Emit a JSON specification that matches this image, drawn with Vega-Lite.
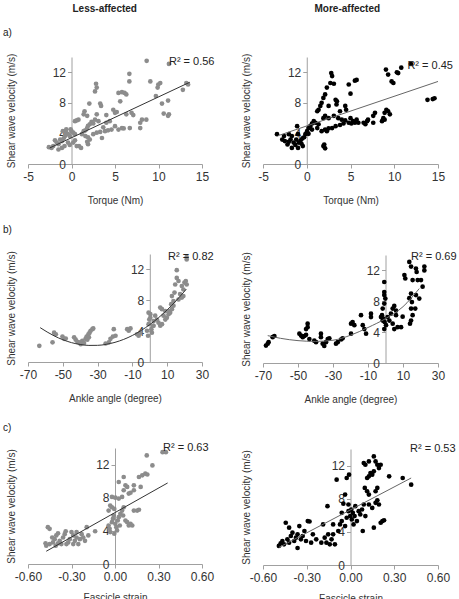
{
  "$schema": "https://vega.github.io/schema/vega-lite/v6.json",
  "padding": {"left": 3, "top": 4, "right": 0, "bottom": 0},
  "background": "white",
  "config": {
    "font": "Liberation Sans",
    "view": {"stroke": null},
    "axis": {"grid": false, "domainColor": "#a0a0a0", "tickColor": "#a0a0a0", "labelFont": "Liberation Sans", "labelFontSize": 12, "labelColor": "#333333", "titleFont": "Liberation Sans", "titleFontSize": 10, "titleFontWeight": "normal", "titleColor": "#333333", "tickSize": 4},
    "axisX": {"labelFlush": false, "labelPadding": 3, "titlePadding": 13},
    "axisY": {"labelPadding": 2},
    "title": {"font": "Liberation Sans", "fontSize": 10, "fontWeight": "normal", "color": "#222222"}
  },
  "datasets": {
    "la_pts": [
      {"x":8.64,"y":13.5},{"x":11.2,"y":13.1},{"x":6.65,"y":11.8},{"x":6.65,"y":10.8},{"x":2.82,"y":10.5},{"x":2.9,"y":10.0},{"x":2.7,"y":9.5},{"x":9.06,"y":10.8},{"x":9.98,"y":10.4},{"x":10.2,"y":10.6},{"x":9.9,"y":10.0},{"x":13.2,"y":10.6},{"x":13.4,"y":10.4},{"x":12.8,"y":9.7},{"x":5.4,"y":9.3},{"x":5.8,"y":9.4},{"x":6.1,"y":9.3},{"x":6.3,"y":9.1},{"x":5.6,"y":8.2},{"x":2.05,"y":7.9},{"x":3.3,"y":7.9},{"x":3.4,"y":7.6},{"x":9.7,"y":8.9},{"x":10.4,"y":7.9},{"x":11.1,"y":8.3},{"x":11.2,"y":6.5},{"x":11.1,"y":6.3},{"x":10.6,"y":6.6},{"x":1.5,"y":6.9},{"x":1.4,"y":6.5},{"x":1.8,"y":6.3},{"x":0.8,"y":5.8},{"x":0.4,"y":5.6},{"x":0.6,"y":5.7},{"x":4.0,"y":6.4},{"x":5.0,"y":6.7},{"x":5.2,"y":6.8},{"x":6.9,"y":6.7},{"x":7.1,"y":6.4},{"x":6.3,"y":6.5},{"x":8.1,"y":5.8},{"x":8.6,"y":5.8},{"x":7.9,"y":5.4},{"x":6.7,"y":4.7},{"x":5.8,"y":4.7},{"x":6.0,"y":4.65},{"x":5.4,"y":4.5},{"x":4.6,"y":4.5},{"x":4.2,"y":4.4},{"x":3.85,"y":4.3},{"x":3.65,"y":4.8},{"x":4.0,"y":5.4},{"x":3.1,"y":5.6},{"x":2.7,"y":5.8},{"x":2.3,"y":5.5},{"x":2.5,"y":5.3},{"x":2.1,"y":5.2},{"x":1.9,"y":5.0},{"x":1.8,"y":4.7},{"x":1.6,"y":4.4},{"x":1.4,"y":4.3},{"x":1.2,"y":3.9},{"x":1.6,"y":3.65},{"x":1.9,"y":3.5},{"x":2.1,"y":3.2},{"x":1.8,"y":2.9},{"x":1.9,"y":2.6},{"x":2.5,"y":3.9},{"x":2.9,"y":4.1},{"x":3.3,"y":4.2},{"x":3.5,"y":3.4},{"x":0.86,"y":2.35},{"x":1.1,"y":2.1},{"x":0.4,"y":3.9},{"x":0.2,"y":4.1},{"x":0.0,"y":4.3},{"x":-0.2,"y":3.65},{"x":-0.4,"y":3.9},{"x":-0.6,"y":4.1},{"x":-0.75,"y":3.65},{"x":-0.9,"y":3.35},{"x":-1.1,"y":3.0},{"x":-1.3,"y":3.2},{"x":-1.5,"y":2.6},{"x":-1.7,"y":2.8},{"x":-1.9,"y":3.1},{"x":-2.1,"y":2.35},{"x":-2.3,"y":2.1},{"x":-2.6,"y":2.2},{"x":-1.5,"y":1.9},{"x":-1.1,"y":2.1},{"x":-0.8,"y":2.35},{"x":-0.4,"y":2.8},{"x":-0.2,"y":2.5},{"x":0.2,"y":2.8},{"x":0.4,"y":3.1},{"x":0.6,"y":2.35},{"x":-0.6,"y":4.55},{"x":-0.1,"y":4.55},{"x":-1.0,"y":4.3},{"x":4.4,"y":5.6},{"x":7.9,"y":4.7},{"x":5.0,"y":4.95},{"x":4.8,"y":7.1},{"x":2.9,"y":6.5}
    ],
    "la_fit": [{"x":-2.5,"y":2.1},{"x":13.6,"y":10.7}],
    "la_r2": [{"x":11.2,"y":13.35,"label":"R² = 0.56"}],
    "ra_pts": [
      {"x":11.9,"y":13.1},{"x":10.8,"y":12.6},{"x":10.3,"y":12.0},{"x":10.45,"y":11.9},{"x":9.05,"y":12.35},{"x":9.3,"y":11.7},{"x":9.7,"y":10.8},{"x":9.9,"y":10.6},{"x":13.8,"y":8.4},{"x":14.4,"y":8.5},{"x":14.6,"y":8.6},{"x":2.8,"y":11.9},{"x":2.9,"y":11.5},{"x":2.7,"y":10.6},{"x":3.1,"y":10.5},{"x":4.8,"y":10.4},{"x":5.5,"y":10.9},{"x":5.7,"y":11.0},{"x":5.0,"y":9.2},{"x":2.3,"y":10.0},{"x":2.1,"y":9.1},{"x":1.9,"y":8.65},{"x":1.7,"y":8.0},{"x":1.55,"y":7.6},{"x":1.35,"y":7.1},{"x":1.2,"y":6.9},{"x":3.3,"y":8.4},{"x":3.45,"y":8.2},{"x":3.4,"y":7.8},{"x":2.5,"y":7.6},{"x":4.4,"y":7.6},{"x":4.5,"y":7.1},{"x":3.8,"y":6.9},{"x":2.1,"y":6.3},{"x":2.5,"y":6.0},{"x":1.9,"y":6.0},{"x":3.1,"y":6.3},{"x":3.6,"y":6.0},{"x":4.0,"y":5.8},{"x":4.4,"y":5.7},{"x":5.0,"y":6.0},{"x":5.3,"y":5.6},{"x":5.7,"y":5.8},{"x":4.8,"y":5.4},{"x":5.1,"y":5.3},{"x":4.2,"y":5.3},{"x":3.8,"y":5.1},{"x":3.3,"y":4.95},{"x":2.9,"y":4.7},{"x":2.5,"y":4.65},{"x":2.1,"y":4.5},{"x":1.7,"y":4.3},{"x":2.3,"y":4.3},{"x":1.35,"y":5.2},{"x":1.0,"y":5.4},{"x":0.8,"y":5.6},{"x":0.6,"y":5.3},{"x":0.4,"y":4.95},{"x":0.2,"y":4.7},{"x":0.6,"y":4.5},{"x":1.2,"y":4.7},{"x":0.04,"y":4.3},{"x":0.2,"y":3.95},{"x":-0.15,"y":3.9},{"x":-0.3,"y":3.5},{"x":-0.5,"y":3.35},{"x":-0.7,"y":3.1},{"x":-0.6,"y":2.65},{"x":-0.45,"y":2.35},{"x":-1.0,"y":2.1},{"x":-1.3,"y":2.5},{"x":-1.5,"y":2.8},{"x":-1.2,"y":3.2},{"x":-1.0,"y":3.9},{"x":-1.1,"y":4.95},{"x":-1.7,"y":3.65},{"x":-1.85,"y":3.2},{"x":-2.05,"y":2.9},{"x":-2.2,"y":2.55},{"x":-2.5,"y":3.0},{"x":-2.8,"y":3.2},{"x":-2.6,"y":3.65},{"x":-2.05,"y":3.9},{"x":-3.4,"y":3.9},{"x":-1.7,"y":2.1},{"x":-0.9,"y":2.8},{"x":1.9,"y":2.35},{"x":2.1,"y":2.05},{"x":2.0,"y":2.55},{"x":6.5,"y":5.4},{"x":6.9,"y":5.6},{"x":7.0,"y":5.8},{"x":6.7,"y":5.2},{"x":7.6,"y":6.3},{"x":7.8,"y":6.7},{"x":8.6,"y":5.6},{"x":8.75,"y":6.0},{"x":8.9,"y":6.7},{"x":9.3,"y":6.9},{"x":9.5,"y":6.5},{"x":9.1,"y":7.1},{"x":8.9,"y":5.8},{"x":7.6,"y":5.4},{"x":5.9,"y":5.4},{"x":5.5,"y":5.4}
    ],
    "ra_fit": [{"x":-3.3,"y":3.7},{"x":15,"y":10.8}],
    "ra_r2": [{"x":11.5,"y":12.8,"label":"R² = 0.45"}],
    "lb_pts": [
      {"x":-63.5,"y":2.1},{"x":-55.9,"y":2.55},{"x":-55,"y":3.8},{"x":-54,"y":3.6},{"x":-50.2,"y":3.3},{"x":-49.2,"y":3.0},{"x":-48.3,"y":3.05},{"x":-43.5,"y":3.2},{"x":-42.6,"y":2.9},{"x":-41.6,"y":2.6},{"x":-40.7,"y":2.55},{"x":-39.7,"y":2.3},{"x":-38.8,"y":2.75},{"x":-37.8,"y":2.45},{"x":-36.9,"y":3.0},{"x":-36.3,"y":3.3},{"x":-35.3,"y":3.6},{"x":-34.6,"y":3.8},{"x":-34,"y":4.05},{"x":-33,"y":4.25},{"x":-32.5,"y":4.35},{"x":-35,"y":3.2},{"x":-35.9,"y":2.9},{"x":-25.4,"y":2.4},{"x":-23.5,"y":2.55},{"x":-22.6,"y":3.0},{"x":-21.2,"y":3.3},{"x":-20.7,"y":4.25},{"x":-19.7,"y":3.4},{"x":-13.0,"y":4.25},{"x":-12.1,"y":4.05},{"x":-11.1,"y":4.35},{"x":-7.3,"y":3.6},{"x":-6.4,"y":3.4},{"x":-5.4,"y":3.8},{"x":-0.7,"y":4.9},{"x":-0.3,"y":5.5},{"x":0.3,"y":6.2},{"x":0.9,"y":4.25},{"x":1.2,"y":3.8},{"x":1.8,"y":4.7},{"x":2.2,"y":5.3},{"x":5.0,"y":5.1},{"x":6.0,"y":4.7},{"x":7.0,"y":4.9},{"x":6.0,"y":7.05},{"x":7.0,"y":6.85},{"x":7.9,"y":6.0},{"x":8.9,"y":5.5},{"x":9.8,"y":5.75},{"x":10.8,"y":6.2},{"x":11.1,"y":6.6},{"x":11.7,"y":6.4},{"x":12.7,"y":6.85},{"x":13.6,"y":7.3},{"x":13.6,"y":7.9},{"x":12.7,"y":8.55},{"x":14.2,"y":9.0},{"x":14.6,"y":10.05},{"x":15.5,"y":10.9},{"x":15.5,"y":11.9},{"x":16.5,"y":10.5},{"x":17.4,"y":8.8},{"x":18.4,"y":8.35},{"x":19.3,"y":9.4},{"x":19.9,"y":10.3},{"x":20.7,"y":10.5},{"x":21.2,"y":10.05},{"x":21.2,"y":13.3},{"x":21.2,"y":13.6},{"x":16.5,"y":8.1},{"x":19.3,"y":8.55},{"x":18.4,"y":9.85},{"x":3.1,"y":6.0},{"x":4.1,"y":5.5},{"x":2.2,"y":4.7},{"x":-1.6,"y":4.05},{"x":-1.0,"y":3.4},{"x":0.3,"y":5.75},{"x":-0.7,"y":6.4},{"x":8.9,"y":6.6},{"x":12.3,"y":7.5}
    ],
    "lb_fit": [{"x":-63,"y":4.45},{"x":-55,"y":3.39},{"x":-50,"y":2.89},{"x":-45,"y":2.51},{"x":-40,"y":2.27},{"x":-35,"y":2.15},{"x":-30,"y":2.16},{"x":-25,"y":2.29},{"x":-20,"y":2.55},{"x":-15,"y":2.93},{"x":-10,"y":3.44},{"x":-5,"y":4.08},{"x":0,"y":4.85},{"x":5,"y":5.74},{"x":10,"y":6.76},{"x":15,"y":7.91},{"x":21,"y":9.45}],
    "lb_r2": [{"x":10.5,"y":13.6,"label":"R² = 0.82"}],
    "rb_pts": [
      {"x":-68.3,"y":2.26},{"x":-67.3,"y":2.5},{"x":-66.8,"y":2.7},{"x":-64.5,"y":3.35},{"x":-63.5,"y":3.5},{"x":-49.2,"y":3.8},{"x":-48.3,"y":3.55},{"x":-47.3,"y":3.35},{"x":-46.4,"y":3.5},{"x":-45.4,"y":3.65},{"x":-44.5,"y":5.1},{"x":-44.5,"y":4.65},{"x":-45.4,"y":4.4},{"x":-43.5,"y":3.1},{"x":-40.7,"y":2.9},{"x":-39.7,"y":2.7},{"x":-36.9,"y":3.8},{"x":-36.9,"y":3.35},{"x":-35.9,"y":2.5},{"x":-35.0,"y":2.2},{"x":-34.0,"y":2.7},{"x":-33.0,"y":3.1},{"x":-32.1,"y":3.2},{"x":-27.3,"y":2.7},{"x":-28.3,"y":2.5},{"x":-25.4,"y":3.05},{"x":-24.5,"y":3.2},{"x":-19.7,"y":3.8},{"x":-19.7,"y":5.1},{"x":-18.8,"y":5.3},{"x":-17.8,"y":4.9},{"x":-13.0,"y":4.9},{"x":-12.1,"y":4.4},{"x":-11.1,"y":3.8},{"x":-14.0,"y":6.2},{"x":-8.3,"y":6.4},{"x":-8.3,"y":5.95},{"x":-0.7,"y":10.5},{"x":-0.7,"y":9.2},{"x":-0.7,"y":8.8},{"x":-0.1,"y":8.35},{"x":-0.7,"y":7.7},{"x":-1.6,"y":7.05},{"x":-2.0,"y":6.2},{"x":-1.2,"y":5.75},{"x":-0.5,"y":5.3},{"x":0.3,"y":4.9},{"x":-0.7,"y":4.4},{"x":-1.6,"y":5.5},{"x":-2.6,"y":5.95},{"x":1.2,"y":5.95},{"x":2.2,"y":5.5},{"x":3.1,"y":6.4},{"x":4.1,"y":7.05},{"x":5.0,"y":7.4},{"x":6.0,"y":6.8},{"x":6.0,"y":6.2},{"x":4.1,"y":5.1},{"x":5.0,"y":4.4},{"x":6.9,"y":4.65},{"x":8.9,"y":4.65},{"x":9.8,"y":6.0},{"x":10.8,"y":11.4},{"x":11.3,"y":10.95},{"x":14.6,"y":9.0},{"x":13.6,"y":8.4},{"x":15.1,"y":7.9},{"x":14.6,"y":7.05},{"x":15.5,"y":6.2},{"x":14.6,"y":5.5},{"x":14.0,"y":5.1},{"x":13.6,"y":13.1},{"x":14.6,"y":12.5},{"x":17.4,"y":12.25},{"x":17.8,"y":11.8},{"x":15.5,"y":10.75},{"x":18.4,"y":10.75},{"x":20.3,"y":10.75},{"x":21.2,"y":9.9},{"x":22.2,"y":12.5},{"x":22.2,"y":12.0},{"x":17.4,"y":8.8},{"x":17.0,"y":7.05},{"x":19.3,"y":8.35}
    ],
    "rb_fit": [{"x":-67.3,"y":3.55},{"x":-60,"y":3.2},{"x":-50,"y":2.9},{"x":-40,"y":2.8},{"x":-30,"y":2.95},{"x":-20,"y":3.6},{"x":-10,"y":4.6},{"x":0,"y":5.75},{"x":10,"y":7.3},{"x":19.3,"y":9.65}],
    "rb_r2": [{"x":14.6,"y":13.8,"label":"R² = 0.69"}],
    "lc_pts": [
      {"x":-0.479,"y":2.5},{"x":-0.463,"y":4.45},{"x":-0.451,"y":4.25},{"x":-0.474,"y":2.2},{"x":-0.451,"y":2.4},{"x":-0.428,"y":2.6},{"x":-0.416,"y":3.0},{"x":-0.405,"y":3.45},{"x":-0.393,"y":3.7},{"x":-0.381,"y":2.8},{"x":-0.37,"y":2.4},{"x":-0.358,"y":3.2},{"x":-0.347,"y":3.6},{"x":-0.34,"y":3.95},{"x":-0.323,"y":2.6},{"x":-0.312,"y":3.0},{"x":-0.3,"y":3.85},{"x":-0.288,"y":3.45},{"x":-0.277,"y":2.8},{"x":-0.265,"y":3.2},{"x":-0.253,"y":2.4},{"x":-0.242,"y":3.0},{"x":-0.23,"y":3.6},{"x":-0.219,"y":3.2},{"x":-0.207,"y":2.8},{"x":-0.195,"y":4.45},{"x":-0.184,"y":3.45},{"x":-0.409,"y":2.2},{"x":-0.393,"y":2.5},{"x":-0.433,"y":3.2},{"x":-0.335,"y":2.4},{"x":-0.288,"y":2.4},{"x":-0.265,"y":3.85},{"x":-0.137,"y":3.95},{"x":-0.044,"y":4.65},{"x":-0.037,"y":4.25},{"x":-0.033,"y":3.85},{"x":-0.021,"y":5.05},{"x":-0.014,"y":5.45},{"x":-0.009,"y":5.85},{"x":-0.005,"y":3.65},{"x":0.002,"y":4.85},{"x":0.009,"y":4.45},{"x":0.014,"y":4.05},{"x":0.019,"y":5.25},{"x":0.026,"y":5.65},{"x":0.033,"y":4.65},{"x":0.037,"y":6.05},{"x":0.049,"y":6.45},{"x":0.056,"y":5.85},{"x":0.06,"y":6.85},{"x":0.072,"y":5.25},{"x":0.084,"y":5.05},{"x":0.095,"y":4.65},{"x":0.107,"y":4.85},{"x":0.119,"y":4.65},{"x":0.13,"y":6.45},{"x":0.153,"y":6.45},{"x":0.165,"y":6.55},{"x":-0.021,"y":8.1},{"x":0.002,"y":8.0},{"x":0.026,"y":7.9},{"x":0.049,"y":8.1},{"x":0.06,"y":8.9},{"x":0.072,"y":9.5},{"x":0.084,"y":9.3},{"x":0.026,"y":9.9},{"x":0.06,"y":10.5},{"x":0.095,"y":8.5},{"x":0.107,"y":8.6},{"x":0.13,"y":8.9},{"x":0.13,"y":9.5},{"x":0.177,"y":9.3},{"x":0.165,"y":10.5},{"x":0.188,"y":10.7},{"x":0.209,"y":10.9},{"x":0.223,"y":10.8},{"x":0.219,"y":13.1},{"x":0.258,"y":11.9},{"x":0.328,"y":13.5},{"x":0.351,"y":13.5},{"x":-0.033,"y":7.05},{"x":-0.044,"y":6.45},{"x":-0.021,"y":6.85},{"x":-0.005,"y":6.65}
    ],
    "lc_fit": [{"x":-0.474,"y":1.54},{"x":0.363,"y":9.78}],
    "lc_r2": [{"x":0.331,"y":14.06,"label":"R² = 0.63"}],
    "rc_pts": [
      {"x":-0.491,"y":2.3},{"x":-0.479,"y":2.6},{"x":-0.467,"y":2.9},{"x":-0.456,"y":2.5},{"x":-0.444,"y":5.1},{"x":-0.433,"y":3.1},{"x":-0.421,"y":2.7},{"x":-0.421,"y":4.5},{"x":-0.409,"y":3.5},{"x":-0.398,"y":3.9},{"x":-0.386,"y":2.9},{"x":-0.374,"y":3.3},{"x":-0.363,"y":2.05},{"x":-0.363,"y":3.7},{"x":-0.351,"y":4.7},{"x":-0.34,"y":3.1},{"x":-0.328,"y":3.5},{"x":-0.316,"y":4.1},{"x":-0.305,"y":2.9},{"x":-0.293,"y":5.3},{"x":-0.281,"y":5.25},{"x":-0.27,"y":2.7},{"x":-0.258,"y":3.7},{"x":-0.235,"y":3.1},{"x":-0.2,"y":2.7},{"x":-0.188,"y":4.9},{"x":-0.177,"y":3.3},{"x":-0.165,"y":2.7},{"x":-0.158,"y":7.1},{"x":-0.153,"y":3.7},{"x":-0.142,"y":2.5},{"x":-0.13,"y":3.1},{"x":-0.119,"y":3.7},{"x":-0.119,"y":4.9},{"x":-0.107,"y":2.5},{"x":-0.095,"y":10.3},{"x":-0.084,"y":4.1},{"x":-0.072,"y":4.9},{"x":-0.06,"y":6.3},{"x":-0.049,"y":7.4},{"x":-0.037,"y":8.5},{"x":-0.026,"y":10.5},{"x":-0.01,"y":10.9},{"x":-0.014,"y":7.3},{"x":-0.026,"y":5.7},{"x":-0.014,"y":6.5},{"x":-0.002,"y":5.9},{"x":0.005,"y":6.7},{"x":0.009,"y":5.5},{"x":0.016,"y":6.3},{"x":0.021,"y":4.9},{"x":0.028,"y":5.9},{"x":0.033,"y":7.1},{"x":0.044,"y":5.3},{"x":0.056,"y":6.5},{"x":0.067,"y":6.1},{"x":0.079,"y":6.7},{"x":0.084,"y":4.1},{"x":0.091,"y":7.3},{"x":0.098,"y":9.3},{"x":0.102,"y":5.9},{"x":0.114,"y":8.9},{"x":0.126,"y":8.5},{"x":0.126,"y":7.3},{"x":0.149,"y":6.9},{"x":0.16,"y":4.5},{"x":0.172,"y":7.5},{"x":0.184,"y":7.8},{"x":0.195,"y":7.3},{"x":0.207,"y":5.1},{"x":0.219,"y":5.3},{"x":0.23,"y":5.4},{"x":0.091,"y":12.3},{"x":0.102,"y":12.1},{"x":0.126,"y":12.5},{"x":0.16,"y":13.1},{"x":0.172,"y":12.5},{"x":0.184,"y":12.1},{"x":0.195,"y":11.7},{"x":0.207,"y":12.1},{"x":0.126,"y":10.7},{"x":0.114,"y":10.5},{"x":0.137,"y":11.1},{"x":0.149,"y":10.9},{"x":0.16,"y":11.3},{"x":0.265,"y":10.7},{"x":0.358,"y":10.5},{"x":0.416,"y":9.7},{"x":0.172,"y":8.9},{"x":0.184,"y":9.3},{"x":-0.037,"y":4.7},{"x":-0.06,"y":5.3}
    ],
    "rc_fit": [{"x":-0.491,"y":2.12},{"x":0.416,"y":10.5}],
    "rc_r2": [{"x":0.408,"y":14.06,"label":"R² = 0.53"}]
  },
  "hconcat": [
    {
      "title": {"text": "Less-affected", "fontWeight": "bold", "fontSize": 10, "anchor": "middle", "offset": 14, "dx": -4, "color": "#222222"},
      "spacing": 19,
      "vconcat": [
        {
          "width": 174, "height": 107,
          "title": {"text": "a)", "anchor": "start", "frame": "group", "offset": 15, "dx": -25},
          "encoding": {
            "x": {"field": "x", "type": "quantitative", "scale": {"domain": [-5, 15], "nice": false, "zero": false}, "axis": {"title": "Torque (Nm)", "values": [-5, 0, 5, 10, 15], "labelExpr": "datum.value < 0 ? '-' + (-datum.value) : '' + datum.value"}},
            "y": {"field": "y", "type": "quantitative", "scale": {"domain": [0, 14], "nice": false}, "axis": {"title": "Shear wave velocity (m/s)", "values": [0, 4, 8, 12], "offset": -43.5, "titleX": -55.5}}
          },
          "layer": [
            {"data": {"name": "la_pts"}, "mark": {"type": "circle", "size": 22, "color": "#8c8c8c", "opacity": 1}},
            {"data": {"name": "la_fit"}, "mark": {"type": "line", "color": "#333333", "strokeWidth": 1}},
            {"data": {"name": "la_r2"}, "mark": {"type": "text", "align": "left", "baseline": "middle", "fontSize": 11, "color": "#222222"}, "encoding": {"text": {"field": "label"}}}
          ]
        },
        {
          "width": 174, "height": 108,
          "title": {"text": "b)", "anchor": "start", "frame": "group", "offset": 16, "dx": -25},
          "encoding": {
            "x": {"field": "x", "type": "quantitative", "scale": {"domain": [-70, 30], "nice": false, "zero": false}, "axis": {"title": "Ankle angle (degree)", "values": [-70, -50, -30, -10, 10, 30], "labelExpr": "datum.value < 0 ? '-' + (-datum.value) : '' + datum.value"}},
            "y": {"field": "y", "type": "quantitative", "scale": {"domain": [0, 14], "nice": false}, "axis": {"title": "Shear wave velocity (m/s)", "values": [0, 4, 8, 12], "offset": -121.8, "titleX": -133.8}}
          },
          "layer": [
            {"data": {"name": "lb_pts"}, "mark": {"type": "circle", "size": 22, "color": "#8c8c8c", "opacity": 1}},
            {"data": {"name": "lb_fit"}, "mark": {"type": "line", "color": "#333333", "strokeWidth": 1, "interpolate": "monotone"}},
            {"data": {"name": "lb_r2"}, "mark": {"type": "text", "align": "left", "baseline": "middle", "fontSize": 11, "color": "#222222"}, "encoding": {"text": {"field": "label"}}}
          ]
        },
        {
          "width": 174, "height": 116,
          "title": {"text": "c)", "anchor": "start", "frame": "group", "offset": 9, "dx": -25},
          "encoding": {
            "x": {"field": "x", "type": "quantitative", "scale": {"domain": [-0.6, 0.6], "nice": false, "zero": false}, "axis": {"title": "Fascicle strain", "titlePadding": 10, "values": [-0.6, -0.3, 0, 0.3, 0.6], "labelExpr": "datum.value < 0 ? '-' + format(-datum.value, '.2f') : format(datum.value, '.2f')"}},
            "y": {"field": "y", "type": "quantitative", "scale": {"domain": [0, 14], "nice": false}, "axis": {"title": "Shear wave velocity (m/s)", "values": [0, 4, 8, 12], "offset": -87, "titleX": -99}}
          },
          "layer": [
            {"data": {"name": "lc_pts"}, "mark": {"type": "circle", "size": 22, "color": "#8c8c8c", "opacity": 1}},
            {"data": {"name": "lc_fit"}, "mark": {"type": "line", "color": "#333333", "strokeWidth": 1}},
            {"data": {"name": "lc_r2"}, "mark": {"type": "text", "align": "left", "baseline": "middle", "fontSize": 11, "color": "#222222"}, "encoding": {"text": {"field": "label"}}}
          ]
        }
      ]
    },
    {
      "title": {"text": "More-affected", "fontWeight": "bold", "fontSize": 10, "anchor": "middle", "offset": 14, "color": "#222222"},
      "spacing": 19,
      "vconcat": [
        {
          "width": 175, "height": 107,
          "title": {"text": "a)", "anchor": "start", "frame": "group", "offset": 15, "dx": -25, "color": "transparent"},
          "encoding": {
            "x": {"field": "x", "type": "quantitative", "scale": {"domain": [-5, 15], "nice": false, "zero": false}, "axis": {"title": "Torque (Nm)", "values": [-5, 0, 5, 10, 15], "labelExpr": "datum.value < 0 ? '-' + (-datum.value) : '' + datum.value"}},
            "y": {"field": "y", "type": "quantitative", "scale": {"domain": [0, 14], "nice": false}, "axis": {"title": "Shear wave velocity (m/s)", "values": [0, 4, 8, 12], "offset": -43.75, "titleX": -55.25}}
          },
          "layer": [
            {"data": {"name": "ra_pts"}, "mark": {"type": "circle", "size": 22, "color": "#000000", "opacity": 1}},
            {"data": {"name": "ra_fit"}, "mark": {"type": "line", "color": "#666666", "strokeWidth": 1}},
            {"data": {"name": "ra_r2"}, "mark": {"type": "text", "align": "left", "baseline": "middle", "fontSize": 11, "color": "#222222"}, "encoding": {"text": {"field": "label"}}}
          ]
        },
        {
          "width": 175, "height": 108,
          "title": {"text": "b)", "anchor": "start", "frame": "group", "offset": 16, "dx": -25, "color": "transparent"},
          "encoding": {
            "x": {"field": "x", "type": "quantitative", "scale": {"domain": [-70, 30], "nice": false, "zero": false}, "axis": {"title": "Ankle angle (degree)", "values": [-70, -50, -30, -10, 10, 30], "labelExpr": "datum.value < 0 ? '-' + (-datum.value) : '' + datum.value"}},
            "y": {"field": "y", "type": "quantitative", "scale": {"domain": [0, 14], "nice": false}, "axis": {"title": "Shear wave velocity (m/s)", "values": [0, 4, 8, 12], "offset": -122.5, "titleX": -134}}
          },
          "layer": [
            {"data": {"name": "rb_pts"}, "mark": {"type": "circle", "size": 22, "color": "#000000", "opacity": 1}},
            {"data": {"name": "rb_fit"}, "mark": {"type": "line", "color": "#666666", "strokeWidth": 1, "interpolate": "monotone"}},
            {"data": {"name": "rb_r2"}, "mark": {"type": "text", "align": "left", "baseline": "middle", "fontSize": 11, "color": "#222222"}, "encoding": {"text": {"field": "label"}}}
          ]
        },
        {
          "width": 175, "height": 116,
          "title": {"text": "c)", "anchor": "start", "frame": "group", "offset": 9, "dx": -25, "color": "transparent"},
          "encoding": {
            "x": {"field": "x", "type": "quantitative", "scale": {"domain": [-0.6, 0.6], "nice": false, "zero": false}, "axis": {"title": "Fascicle strain", "titlePadding": 10, "values": [-0.6, -0.3, 0, 0.3, 0.6], "labelExpr": "datum.value < 0 ? '-' + format(-datum.value, '.2f') : format(datum.value, '.2f')"}},
            "y": {"field": "y", "type": "quantitative", "scale": {"domain": [0, 14], "nice": false}, "axis": {"title": "Shear wave velocity (m/s)", "values": [0, 4, 8, 12], "offset": -87.5, "titleX": -99}}
          },
          "layer": [
            {"data": {"name": "rc_pts"}, "mark": {"type": "circle", "size": 22, "color": "#000000", "opacity": 1}},
            {"data": {"name": "rc_fit"}, "mark": {"type": "line", "color": "#666666", "strokeWidth": 1}},
            {"data": {"name": "rc_r2"}, "mark": {"type": "text", "align": "left", "baseline": "middle", "fontSize": 11, "color": "#222222"}, "encoding": {"text": {"field": "label"}}}
          ]
        }
      ]
    }
  ],
  "spacing": 23
}
